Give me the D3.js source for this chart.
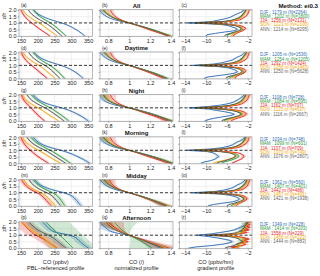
<!DOCTYPE html>
<html>
<head>
<meta charset="utf-8">
<script src="https://cdn.jsdelivr.net/npm/d3@7"></script>
<style>
  body { margin: 0; background: #fff; }
  svg { display: block; font-family: "Liberation Sans", Arial, sans-serif; }
</style>
</head>
<body>
<div id="chart"></div>
<script>
// ---- data ----
const seasons = ["DJF", "MAM", "JJA", "SON", "ANN"];
const seasonColors = ["#2f6db5", "#2e9a3a", "#f21d1d", "#f7a600", "#555555"];
const rowTitles = ["All", "Daytime", "Night", "Morning", "Midday", "Afternoon"];
const panelLetters = "abcdefghijklmnopqr".split("");

const zCoarse = [0, 0.2, 0.4, 0.6, 0.8, 1.0, 1.2, 1.4, 1.6, 1.8, 2.0];
const zFine = [0, 0.1, 0.2, 0.3, 0.4, 0.5, 0.6, 0.7, 0.8, 0.9, 1.0, 1.1, 1.2, 1.3, 1.4, 1.5, 1.6, 1.7, 1.8, 1.9, 2.0];

const coTicks = [150, 200, 250, 300, 350];
const normTicks = [0.8, 1, 1.2, 1.4];
const gradTicks = [-14, -10, -6, -2];
const zTicks = [0, 0.5, 1, 1.5, 2];

const pblHeights = [
  [1179, 1202, 1256, 1223, 1214],
  [1205, 1254, 1292, 1256, 1250],
  [1108, 1084, 1162, 1125, 1116],
  [1034, 1099, 1107, 1070, 1076],
  [1362, 1407, 1442, 1457, 1421],
  [1349, 1414, 1558, 1458, 1444]
];
const sampleCounts = [
  [2264, 1800, 2131, 2100, 8295],
  [1536, 1205, 1424, 1463, 5628],
  [728, 595, 707, 637, 2667],
  [748, 601, 709, 749, 2807],
  [560, 401, 486, 491, 1938],
  [228, 203, 229, 223, 883]
];

// CO (ppbv) on zCoarse, order DJF, MAM, JJA, SON, ANN
const coAll = [
  [340, 331, 320, 307, 292, 272, 244, 222, 206, 195, 188],
  [284, 276, 267, 258, 249, 238, 224, 211, 200, 192, 186],
  [236, 225, 213, 202, 192, 182, 172, 164, 158, 153, 150],
  [258, 247, 236, 226, 216, 204, 190, 178, 168, 160, 155],
  [272, 263, 254, 245, 235, 223, 208, 195, 185, 177, 172]
];
const coDay = [
  [335, 327, 317, 305, 290, 270, 243, 221, 206, 196, 189],
  [280, 273, 265, 257, 248, 237, 223, 210, 200, 192, 186],
  [228, 219, 209, 200, 191, 182, 172, 164, 158, 154, 151],
  [252, 243, 233, 224, 215, 204, 190, 178, 168, 161, 156],
  [266, 258, 250, 242, 233, 222, 207, 195, 185, 178, 173]
];
const coNight = [
  [350, 340, 327, 312, 295, 272, 240, 218, 203, 193, 187],
  [292, 283, 272, 261, 250, 238, 222, 208, 196, 187, 181],
  [220, 211, 202, 194, 187, 180, 172, 164, 158, 154, 151],
  [262, 250, 237, 225, 214, 201, 186, 174, 165, 159, 155],
  [278, 268, 257, 246, 235, 222, 206, 192, 181, 173, 168]
];
const coMorn = [
  [355, 343, 328, 312, 294, 270, 238, 216, 202, 193, 187],
  [298, 287, 275, 263, 251, 238, 221, 207, 195, 186, 180],
  [232, 220, 207, 196, 187, 178, 169, 162, 157, 153, 150],
  [268, 254, 240, 228, 216, 202, 187, 175, 166, 159, 155],
  [283, 272, 259, 247, 236, 222, 205, 191, 181, 173, 168]
];
const coMid = [
  [328, 322, 316, 309, 300, 280, 246, 222, 207, 197, 190],
  [280, 275, 270, 264, 257, 245, 227, 212, 201, 193, 187],
  [240, 233, 226, 219, 211, 199, 182, 170, 162, 156, 152],
  [252, 245, 238, 231, 223, 210, 192, 179, 170, 163, 158],
  [268, 262, 256, 249, 241, 228, 210, 196, 186, 179, 174]
];
const coAft = [
  [352, 340, 330, 322, 315, 300, 250, 238, 230, 222, 215],
  [305, 298, 290, 282, 274, 265, 256, 248, 240, 232, 225],
  [257, 247, 235, 224, 212, 192, 182, 175, 167, 159, 152],
  [255, 245, 235, 226, 217, 205, 192, 180, 170, 162, 156],
  [285, 275, 265, 256, 246, 232, 214, 200, 190, 181, 175]
];

// normalized CO (/) on zCoarse
const normAll = [
  [1.37, 1.31, 1.25, 1.18, 1.10, 1.00, 0.87, 0.80, 0.76, 0.73, 0.72],
  [1.40, 1.33, 1.26, 1.18, 1.09, 1.00, 0.91, 0.85, 0.81, 0.78, 0.76],
  [1.38, 1.30, 1.22, 1.15, 1.08, 1.00, 0.93, 0.88, 0.85, 0.83, 0.82],
  [1.40, 1.32, 1.24, 1.17, 1.09, 1.00, 0.91, 0.85, 0.81, 0.78, 0.76],
  [1.39, 1.32, 1.25, 1.17, 1.09, 1.00, 0.91, 0.84, 0.80, 0.77, 0.75]
];
const normDay = [
  [1.35, 1.30, 1.24, 1.17, 1.09, 1.00, 0.88, 0.81, 0.77, 0.74, 0.72],
  [1.37, 1.31, 1.25, 1.17, 1.09, 1.00, 0.91, 0.85, 0.81, 0.79, 0.77],
  [1.33, 1.27, 1.21, 1.14, 1.07, 1.00, 0.93, 0.88, 0.85, 0.83, 0.82],
  [1.36, 1.30, 1.23, 1.16, 1.08, 1.00, 0.91, 0.85, 0.81, 0.79, 0.77],
  [1.36, 1.30, 1.23, 1.16, 1.08, 1.00, 0.91, 0.85, 0.81, 0.78, 0.76]
];
const normNight = [
  [1.38, 1.33, 1.27, 1.20, 1.11, 1.00, 0.86, 0.79, 0.75, 0.73, 0.71],
  [1.41, 1.34, 1.27, 1.19, 1.10, 1.00, 0.90, 0.84, 0.80, 0.78, 0.76],
  [1.36, 1.30, 1.23, 1.15, 1.08, 1.00, 0.93, 0.88, 0.85, 0.83, 0.82],
  [1.40, 1.33, 1.26, 1.18, 1.09, 1.00, 0.90, 0.84, 0.80, 0.78, 0.77],
  [1.40, 1.33, 1.26, 1.18, 1.09, 1.00, 0.90, 0.83, 0.79, 0.77, 0.75]
];
const normMorn = [
  [1.40, 1.34, 1.27, 1.20, 1.11, 1.00, 0.87, 0.80, 0.76, 0.73, 0.71],
  [1.42, 1.35, 1.28, 1.19, 1.10, 1.00, 0.90, 0.84, 0.80, 0.78, 0.76],
  [1.39, 1.31, 1.23, 1.15, 1.08, 1.00, 0.93, 0.88, 0.85, 0.83, 0.82],
  [1.41, 1.34, 1.26, 1.18, 1.09, 1.00, 0.91, 0.85, 0.81, 0.78, 0.77],
  [1.41, 1.34, 1.26, 1.18, 1.09, 1.00, 0.90, 0.84, 0.80, 0.77, 0.75]
];
const normMid = [
  [1.34, 1.29, 1.23, 1.17, 1.09, 1.00, 0.88, 0.81, 0.77, 0.74, 0.72],
  [1.36, 1.30, 1.24, 1.17, 1.09, 1.00, 0.91, 0.85, 0.81, 0.79, 0.77],
  [1.35, 1.29, 1.22, 1.15, 1.08, 1.00, 0.92, 0.87, 0.84, 0.82, 0.81],
  [1.37, 1.30, 1.23, 1.16, 1.08, 1.00, 0.91, 0.85, 0.81, 0.79, 0.77],
  [1.36, 1.30, 1.23, 1.16, 1.08, 1.00, 0.91, 0.85, 0.81, 0.78, 0.76]
];
const normAft = [
  [1.30, 1.26, 1.20, 1.14, 1.07, 1.00, 0.84, 0.80, 0.77, 0.74, 0.72],
  [1.22, 1.18, 1.14, 1.10, 1.05, 1.00, 0.96, 0.93, 0.90, 0.88, 0.86],
  [1.38, 1.30, 1.22, 1.15, 1.08, 1.00, 0.94, 0.90, 0.86, 0.83, 0.80],
  [1.36, 1.29, 1.21, 1.14, 1.07, 1.00, 0.93, 0.88, 0.84, 0.81, 0.79],
  [1.33, 1.27, 1.20, 1.14, 1.07, 1.00, 0.92, 0.87, 0.83, 0.80, 0.78]
];

// CO gradient (ppbv/hm) on zFine
const gradAll = [
  [-10.0, -9.8, -8.2, -6.5, -4.6, -4.0, -4.3, -5.1, -5.8, -7.5, -13.6, -9.0, -7.8, -6.6, -5.6, -5.0, -4.6, -4.0, -3.4, -3.0, -2.8],
  [-6.0, -5.8, -5.0, -4.0, -3.3, -3.0, -3.0, -3.4, -4.2, -6.0, -12.0, -6.5, -4.8, -4.0, -3.5, -3.2, -3.0, -2.8, -2.6, -2.5, -2.4],
  [-4.8, -4.6, -4.2, -3.6, -3.0, -2.6, -2.4, -2.8, -3.4, -5.5, -11.0, -5.8, -3.8, -3.2, -2.8, -2.4, -2.2, -2.0, -1.9, -1.8, -1.7],
  [-5.2, -5.0, -4.6, -4.0, -3.4, -3.1, -3.0, -3.3, -4.0, -6.2, -11.6, -6.4, -4.5, -3.8, -3.3, -3.0, -2.8, -2.6, -2.5, -2.3, -2.2],
  [-6.5, -6.2, -5.4, -4.6, -3.8, -3.3, -3.3, -3.8, -4.6, -6.6, -12.2, -7.0, -5.2, -4.4, -3.8, -3.4, -3.1, -2.9, -2.7, -2.5, -2.4]
];
const gradDay = [
  [-10.4, -9.8, -8.0, -6.0, -4.6, -4.0, -4.2, -4.8, -5.6, -7.6, -12.6, -8.6, -7.0, -6.0, -5.0, -4.6, -4.2, -3.6, -3.1, -2.8, -2.6],
  [-5.6, -5.4, -4.6, -3.6, -3.0, -2.8, -2.9, -3.2, -4.0, -5.8, -11.4, -6.2, -4.4, -3.8, -3.4, -3.1, -2.9, -2.7, -2.5, -2.4, -2.3],
  [-4.4, -4.4, -4.0, -3.4, -2.8, -2.5, -2.4, -2.6, -3.2, -5.2, -10.4, -5.4, -3.6, -3.0, -2.6, -2.3, -2.1, -2.0, -1.9, -1.8, -1.7],
  [-5.0, -4.8, -4.4, -3.8, -3.2, -2.9, -2.9, -3.1, -3.8, -6.0, -11.0, -6.0, -4.2, -3.6, -3.1, -2.9, -2.7, -2.5, -2.4, -2.2, -2.1],
  [-6.2, -6.0, -5.2, -4.3, -3.5, -3.1, -3.2, -3.6, -4.3, -6.4, -11.6, -6.6, -4.9, -4.2, -3.6, -3.3, -3.0, -2.8, -2.6, -2.4, -2.3]
];
const gradNight = [
  [-10.2, -9.6, -8.4, -7.0, -5.4, -4.6, -5.2, -6.4, -8.0, -9.4, -13.2, -9.6, -7.4, -6.0, -5.0, -4.4, -4.0, -3.6, -3.2, -2.9, -2.7],
  [-6.6, -6.2, -5.2, -4.2, -3.4, -3.0, -3.2, -3.8, -4.8, -6.6, -12.0, -7.2, -5.2, -4.2, -3.6, -3.2, -3.0, -2.8, -2.6, -2.5, -2.4],
  [-5.2, -4.8, -4.0, -3.2, -2.6, -2.3, -2.4, -2.8, -3.6, -5.8, -11.2, -6.0, -4.0, -3.2, -2.8, -2.4, -2.2, -2.0, -1.9, -1.8, -1.7],
  [-6.0, -5.6, -4.8, -4.0, -3.2, -2.9, -3.0, -3.5, -4.4, -6.6, -11.8, -6.8, -4.8, -3.9, -3.3, -3.0, -2.8, -2.6, -2.4, -2.3, -2.2],
  [-7.0, -6.6, -5.6, -4.6, -3.7, -3.3, -3.5, -4.1, -5.1, -7.0, -12.2, -7.4, -5.3, -4.4, -3.8, -3.4, -3.1, -2.9, -2.7, -2.5, -2.4]
];
const gradMorn = [
  [-11.0, -10.4, -9.2, -8.4, -8.0, -7.6, -7.8, -8.2, -8.6, -9.8, -13.8, -9.2, -7.0, -5.8, -5.0, -4.6, -4.2, -3.6, -3.1, -2.8, -2.6],
  [-7.0, -6.6, -5.6, -4.8, -4.2, -3.8, -3.8, -4.2, -5.0, -6.8, -12.2, -7.0, -5.0, -4.1, -3.6, -3.2, -3.0, -2.8, -2.6, -2.5, -2.4],
  [-5.0, -4.6, -4.0, -3.4, -3.0, -2.8, -2.8, -3.2, -3.8, -6.0, -11.4, -6.0, -4.0, -3.2, -2.8, -2.4, -2.2, -2.0, -1.9, -1.8, -1.7],
  [-8.6, -8.0, -6.8, -5.8, -5.0, -4.4, -4.2, -4.4, -5.0, -7.0, -12.0, -6.8, -4.8, -3.9, -3.4, -3.1, -2.8, -2.6, -2.4, -2.3, -2.2],
  [-8.0, -7.4, -6.4, -5.6, -4.9, -4.4, -4.4, -4.8, -5.5, -7.4, -12.4, -7.2, -5.2, -4.3, -3.7, -3.3, -3.0, -2.8, -2.6, -2.5, -2.4]
];
const gradMid = [
  [-9.6, -8.6, -6.8, -5.0, -4.0, -3.6, -3.8, -4.4, -5.4, -7.4, -12.8, -8.4, -6.6, -5.6, -4.8, -4.4, -4.0, -3.4, -3.0, -2.7, -2.5],
  [-5.2, -4.8, -4.0, -3.2, -2.8, -2.6, -2.7, -3.0, -3.8, -5.6, -11.2, -6.0, -4.2, -3.6, -3.2, -2.9, -2.7, -2.5, -2.3, -2.2, -2.1],
  [-4.2, -4.0, -3.6, -3.0, -2.5, -2.2, -2.2, -2.5, -3.1, -5.0, -10.6, -5.2, -3.4, -2.8, -2.4, -2.2, -2.0, -1.9, -1.8, -1.7, -1.6],
  [-4.8, -4.4, -3.8, -3.2, -2.8, -2.6, -2.6, -2.9, -3.6, -5.8, -11.0, -5.8, -4.0, -3.4, -3.0, -2.7, -2.5, -2.3, -2.2, -2.1, -2.0],
  [-6.0, -5.6, -4.6, -3.8, -3.1, -2.8, -2.9, -3.3, -4.0, -6.2, -11.4, -6.4, -4.6, -3.9, -3.4, -3.1, -2.8, -2.6, -2.4, -2.3, -2.2]
];
const gradAft = [
  [-13.4, -12.0, -9.0, -7.0, -5.6, -5.0, -5.4, -6.6, -8.0, -9.6, -11.8, -9.0, -7.4, -5.8, -4.6, -4.0, -3.4, -2.8, -2.6, -2.4, -2.2],
  [-5.0, -4.4, -3.6, -4.2, -3.0, -2.6, -3.2, -2.4, -3.0, -4.8, -8.0, -4.2, -2.8, -3.6, -2.4, -3.0, -2.2, -2.8, -2.0, -2.4, -2.0],
  [-3.6, -5.2, -3.0, -2.4, -3.4, -2.0, -2.8, -1.8, -2.6, -4.0, -9.0, -3.6, -2.2, -3.0, -1.8, -2.6, -1.6, -2.4, -1.6, -2.2, -1.6],
  [-4.6, -4.0, -3.4, -3.8, -2.8, -2.4, -3.0, -2.6, -3.2, -5.0, -9.6, -4.4, -3.0, -2.6, -3.2, -2.4, -2.2, -2.6, -2.0, -1.9, -1.8],
  [-6.4, -5.8, -4.6, -4.2, -3.6, -3.0, -3.4, -3.6, -4.4, -5.8, -10.0, -5.6, -4.0, -3.6, -3.0, -2.9, -2.6, -2.6, -2.3, -2.2, -2.0]
];

// shaded spread (half width) per row, per season
const bandCo = [[4, 4, 4, 3, 3], [5, 5, 5, 4, 3], [7, 6, 6, 5, 4], [8, 7, 7, 6, 5], [9, 8, 8, 7, 5], [14, 70, 25, 10, 12]];
const bandNorm = [[0.03, 0.04, 0.03, 0.03, 0.02], [0.03, 0.04, 0.03, 0.03, 0.02], [0.05, 0.05, 0.05, 0.05, 0.03],
                  [0.05, 0.06, 0.05, 0.05, 0.03], [0.06, 0.07, 0.06, 0.06, 0.04], [0.12, 0.22, 0.15, 0.06, 0.06]];
const bandGrad = [[0.3, 0.3, 0.3, 0.3, 0.2], [0.3, 0.3, 0.3, 0.3, 0.2], [0.4, 0.4, 0.4, 0.4, 0.2],
                  [0.4, 0.4, 0.4, 0.4, 0.2], [0.4, 0.4, 0.4, 0.4, 0.2], [0.6, 1.0, 0.7, 0.4, 0.3]];

const coRows = [coAll, coDay, coNight, coMorn, coMid, coAft];
const normRows = [normAll, normDay, normNight, normMorn, normMid, normAft];
const gradRows = [gradAll, gradDay, gradNight, gradMorn, gradMid, gradAft];

// ---- layout ----
const width = 320, height = 276;
const ph = 27;
const rowTop = i => 9.5 + i * 42.45;
const cols = [
  { x: 19, w: 73.5, domain: [144, 363], ticks: coTicks, z: zCoarse, curve: d3.curveBasis },
  { x: 100, w: 73, domain: [0.72, 1.42], ticks: normTicks, z: zCoarse, curve: d3.curveBasis },
  { x: 179.5, w: 72.5, domain: [-15.1, -1.2], ticks: gradTicks, z: zFine, curve: d3.curveLinear }
];
const fmtTick = d => (d < 0 ? "\u2212" + Math.abs(d) : String(d));

const svg = d3.select("#chart").append("svg")
  .attr("width", width)
  .attr("height", height);

svg.append("rect").attr("width", width).attr("height", height).attr("fill", "#fff");

const y = d3.scaleLinear().domain([-0.04, 2.03]).range([ph, 0]);

cols.forEach((c, j) => {
  svg.append("clipPath").attr("id", "clip" + j)
    .append("rect").attr("width", c.w).attr("height", ph);
});

for (let i = 0; i < 6; i++) {
  const dataRows = [coRows[i], normRows[i], gradRows[i]];
  const bands = [bandCo[i], bandNorm[i], bandGrad[i]];

  cols.forEach((c, j) => {
    const x = d3.scaleLinear().domain(c.domain).range([0, c.w]);
    const g = svg.append("g").attr("transform", `translate(${c.x},${rowTop(i)})`);

    // grid
    g.selectAll(".vg").data(c.ticks).enter().append("line")
      .attr("x1", d => x(d)).attr("x2", d => x(d))
      .attr("y1", 0).attr("y2", ph)
      .attr("stroke", "#e3e3e3").attr("stroke-width", 0.5);
    g.selectAll(".hg").data(zTicks).enter().append("line")
      .attr("x1", 0).attr("x2", c.w)
      .attr("y1", d => y(d)).attr("y2", d => y(d))
      .attr("stroke", "#e3e3e3").attr("stroke-width", 0.5);

    const plot = g.append("g").attr("clip-path", `url(#clip${j})`);

    // shaded spreads
    seasons.forEach((s, k) => {
      const vals = dataRows[j][k];
      const pts = c.z.map((z, n) => ({
        z: z, v: vals[n],
        s: j === 1 ? bands[j][k] * Math.abs(z - 1) : bands[j][k]
      }));
      plot.append("path")
        .datum(pts)
        .attr("d", d3.area()
          .y(d => y(d.z))
          .x0(d => x(d.v - d.s))
          .x1(d => x(d.v + d.s))
          .curve(c.curve))
        .attr("fill", seasonColors[k])
        .attr("fill-opacity", 0.22)
        .attr("stroke", "none");
    });

    // profiles
    seasons.forEach((s, k) => {
      const vals = dataRows[j][k];
      plot.append("path")
        .datum(c.z.map((z, n) => [vals[n], z]))
        .attr("d", d3.line().x(d => x(d[0])).y(d => y(d[1])).curve(c.curve))
        .attr("fill", "none")
        .attr("stroke", seasonColors[k])
        .attr("stroke-width", 0.9);
    });

    // PBL top
    g.append("line")
      .attr("x1", 0).attr("x2", c.w)
      .attr("y1", y(1)).attr("y2", y(1))
      .attr("stroke", "#222").attr("stroke-width", 0.9)
      .attr("stroke-dasharray", "3,2");

    // frame
    g.append("rect")
      .attr("width", c.w).attr("height", ph)
      .attr("fill", "none").attr("stroke", "#8a8a8a").attr("stroke-width", 0.6);

    // axes
    const xAxis = g.append("g").attr("transform", `translate(0,${ph})`)
      .call(d3.axisBottom(x).tickValues(c.ticks).tickSize(1.5).tickPadding(1).tickFormat(fmtTick));
    xAxis.select(".domain").remove();
    xAxis.selectAll("line").attr("stroke", "#666").attr("stroke-width", 0.5);
    xAxis.selectAll("text").attr("font-size", "5.5px").attr("fill", "#222").attr("font-family", null);

    const yAxis = g.append("g")
      .call(d3.axisLeft(y).tickValues(zTicks).tickSize(1.5).tickPadding(1)
        .tickFormat(j === 0 ? d3.format(".1f") : ""));
    yAxis.select(".domain").remove();
    yAxis.selectAll("line").attr("stroke", "#666").attr("stroke-width", 0.5);
    yAxis.selectAll("text").attr("font-size", "5.5px").attr("fill", "#222").attr("font-family", null);

    // panel letter
    g.append("text")
      .attr("x", 2).attr("y", -2.4)
      .attr("font-size", "4.6px").attr("fill", "#222")
      .text(`(${panelLetters[i * 3 + j]})`);
  });

  // row title
  svg.append("text")
    .attr("x", cols[1].x + cols[1].w / 2).attr("y", rowTop(i) - 1.8)
    .attr("text-anchor", "middle")
    .attr("font-size", "6px").attr("font-weight", "bold").attr("fill", "#111")
    .text(rowTitles[i]);

  // y label
  svg.append("text")
    .attr("transform", `translate(6,${rowTop(i) + 6.5}) rotate(-90)`)
    .attr("text-anchor", "middle")
    .attr("font-size", "5.3px").attr("fill", "#222")
    .text("z/h");

  // legend
  const legend = svg.append("g").attr("transform", `translate(260,${rowTop(i) + 4.4})`);
  seasons.forEach((s, k) => {
    legend.append("text")
      .attr("x", 0).attr("y", k * 4.2)
      .attr("font-size", "4.5px")
      .attr("fill", k === 4 ? "#666" : seasonColors[k])
      .text(`${s} : ${pblHeights[i][k]} m (N=${sampleCounts[i][k]})`);
  });
}

// title
svg.append("text")
  .attr("x", 318).attr("y", 8)
  .attr("text-anchor", "end")
  .attr("font-size", "6.2px").attr("font-weight", "bold").attr("fill", "#111")
  .text("Method: ei0.3");

// bottom axis titles
const axisTitles = [["CO (ppbv)", "PBL\u2212referenced profile"], ["CO (/)", "normalized profile"], ["CO (ppbv/hm)", "gradient profile"]];
cols.forEach((c, j) => {
  axisTitles[j].forEach((t, n) => {
    svg.append("text")
      .attr("x", c.x + c.w / 2).attr("y", 264.3 + n * 6)
      .attr("text-anchor", "middle")
      .attr("font-size", "5.6px").attr("fill", "#222")
      .text(t);
  });
});
</script>
</body>
</html>
